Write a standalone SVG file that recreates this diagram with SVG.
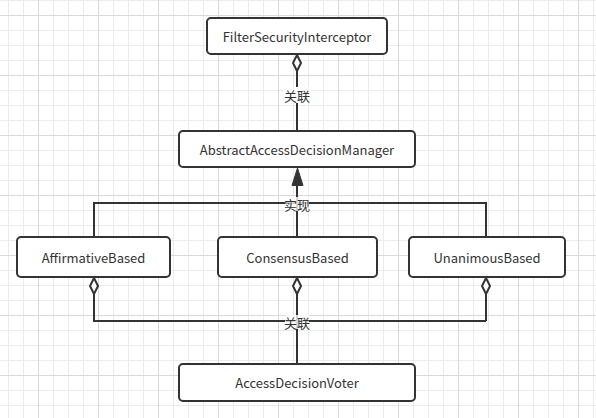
<svg xmlns="http://www.w3.org/2000/svg" width="596" height="418" viewBox="0 0 596 418">
<defs>
<pattern id="minor" x="8" y="0" width="15" height="15" patternUnits="userSpaceOnUse">
<path d="M0.5 0 V15 M0 0.5 H15" fill="none" stroke="#ececec" stroke-width="1"/>
</pattern>
<pattern id="major" x="38" y="15" width="60" height="60" patternUnits="userSpaceOnUse">
<path d="M0.5 0 V60 M0 0.5 H60" fill="none" stroke="#dadada" stroke-width="1"/>
</pattern>
<marker id="diamond" viewBox="0 0 18 10" refX="0" refY="5" markerWidth="18" markerHeight="10" markerUnits="userSpaceOnUse" orient="auto">
<path d="M1 5 L9 1 L17 5 L9 9 Z" fill="#fff" stroke="#333" stroke-width="2"/>
</marker>
</defs>
<style>
.node rect{fill:#fff;stroke:#333;stroke-width:2}
.node text{font-family:"Noto Sans CJK SC","Noto Sans",sans-serif;font-size:13px;fill:#333;text-anchor:middle;dominant-baseline:central}
.edge{fill:none;stroke:#333;stroke-width:2}
.lbl{font-family:"Noto Sans CJK SC",sans-serif;font-size:13px;fill:#333;text-anchor:middle;dominant-baseline:central}
.lblbg{fill:#fff}
</style>
<rect width="596" height="418" fill="#fff"/>
<rect width="596" height="418" fill="url(#minor)"/>
<rect width="596" height="418" fill="url(#major)"/>
<g id="connectors">
<path class="edge" d="M297 54 V131" marker-start="url(#diamond)"/>
<rect class="lblbg" x="284" y="87" width="27" height="16"/>
<text class="lbl" x="297" y="95">关联</text>
<path class="edge" d="M297 237 V184"/>
<path class="edge" d="M94 237 V203 H486 V237"/>
<path d="M297.5 168 L292 185.5 L303 185.5 Z" fill="#333" stroke="#333" stroke-width="1"/>
<rect class="lblbg" x="285" y="197" width="24" height="14" opacity="0.8"/>
<text class="lbl" x="297" y="204">实现</text>
<path class="edge" d="M94 277 V321 H486" marker-start="url(#diamond)"/>
<path class="edge" d="M486 277 V321" marker-start="url(#diamond)"/>
<path class="edge" d="M297 277 V364" marker-start="url(#diamond)"/>
<rect class="lblbg" x="285" y="315" width="24" height="14" opacity="0.8"/>
<text class="lbl" x="297" y="322">关联</text>
</g>
<g id="FilterSecurityInterceptor" class="node">
<rect x="207" y="18" width="180" height="36" rx="4"/>
<text x="297" y="36">FilterSecurityInterceptor</text>
</g>
<g id="AbstractAccessDecisionManager" class="node">
<rect x="179" y="131" width="236" height="36" rx="4"/>
<text x="297" y="149">AbstractAccessDecisionManager</text>
</g>
<g id="AffirmativeBased" class="node">
<rect x="17" y="237" width="153" height="40" rx="4"/>
<text x="93.5" y="257">AffirmativeBased</text>
</g>
<g id="ConsensusBased" class="node">
<rect x="218" y="237" width="159" height="40" rx="4"/>
<text x="297.5" y="257">ConsensusBased</text>
</g>
<g id="UnanimousBased" class="node">
<rect x="409" y="237" width="156" height="40" rx="4"/>
<text x="487" y="257">UnanimousBased</text>
</g>
<g id="AccessDecisionVoter" class="node">
<rect x="179" y="364" width="236" height="37" rx="4"/>
<text x="297" y="382.5">AccessDecisionVoter</text>
</g>
</svg>
